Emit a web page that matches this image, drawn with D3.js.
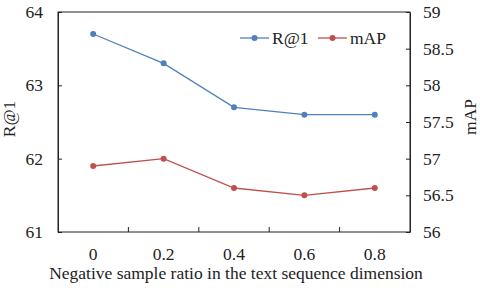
<!DOCTYPE html>
<meta charset="utf-8">
<style>
body { margin: 0; background: #fff; }
svg text { font-family: "Liberation Serif", "DejaVu Serif", serif !important; fill: #222; }
.line { fill: none; stroke-width: 1.3px; }
</style>
<script src="https://cdn.jsdelivr.net/npm/d3@7"></script>
<body>
<script>

var ratios = ["0", "0.2", "0.4", "0.6", "0.8"];
var r1 = [63.7, 63.3, 62.7, 62.6, 62.6];
var mAP = [56.9, 57.0, 56.6, 56.5, 56.6];
var leftTicks = [61, 62, 63, 64];
var rightTicks = [56, 56.5, 57, 57.5, 58, 58.5, 59];

var width = 480, height = 288;
var m = {left: 58, right: 70, top: 12, bottom: 56};
var w = width - m.left - m.right,
    h = height - m.top - m.bottom;

var blue = "#4f81bd", red = "#c0504d";
var fs = 17.5;

var svg = d3.select("body").append("svg")
    .attr("width", width)
    .attr("height", height);

var g = svg.append("g")
    .attr("transform", "translate(" + m.left + "," + m.top + ")");

var x = d3.scaleBand().domain(ratios).range([0, w]);
var yL = d3.scaleLinear().domain([61, 64]).range([h, 0]);
var yR = d3.scaleLinear().domain([56, 59]).range([h, 0]);

// frame
g.append("rect")
    .attr("width", w).attr("height", h)
    .attr("fill", "none").attr("stroke", "#222").attr("stroke-width", 1);

// left axis, ticks inward
var axL = g.append("g").call(d3.axisLeft(yL).tickValues(leftTicks).tickFormat(d3.format("d"))
    .tickSizeInner(-4).tickSizeOuter(0).tickPadding(15));
axL.attr("font-family", null);
axL.select(".domain").attr("stroke", "#222");
axL.selectAll("line").attr("stroke", "#222");
axL.selectAll("text").attr("font-size", fs);

var axR = g.append("g").attr("transform", "translate(" + w + ",0)")
    .call(d3.axisRight(yR).tickValues(rightTicks).tickSizeInner(-4).tickSizeOuter(0).tickPadding(13)
      .tickFormat(d3.format("")));
axR.attr("font-family", null);
axR.select(".domain").attr("stroke", "#222");
axR.selectAll("line").attr("stroke", "#222");
axR.selectAll("text").attr("font-size", fs);

// bottom axis: labels at band centers, ticks at band boundaries
var axB = g.append("g").attr("transform", "translate(0," + h + ")")
    .call(d3.axisBottom(x).tickSize(0).tickPadding(16));
axB.attr("font-family", null);
axB.select(".domain").remove();
axB.selectAll("text").attr("font-size", fs);

g.selectAll(".xtick")
    .data(ratios.slice(1))
  .enter().append("line")
    .attr("x1", function(d) { return x(d); })
    .attr("x2", function(d) { return x(d); })
    .attr("y1", h).attr("y2", h - 5)
    .attr("stroke", "#222");

function cx(d, i) { return x(ratios[i]) + x.bandwidth() / 2; }

var series = [
  {name: "R@1", values: r1, scale: yL, color: blue},
  {name: "mAP", values: mAP, scale: yR, color: red}
];

series.forEach(function(s) {
  var line = d3.line()
      .x(cx)
      .y(function(d) { return s.scale(d); });
  g.append("path")
      .datum(s.values)
      .attr("class", "line")
      .attr("stroke", s.color)
      .attr("d", line);
  g.selectAll(null)
      .data(s.values)
    .enter().append("circle")
      .attr("cx", cx)
      .attr("cy", function(d) { return s.scale(d); })
      .attr("r", 3)
      .attr("fill", s.color);
});

// legend
var legX = [240, 318];
var leg = svg.append("g").selectAll("g")
    .data(series)
  .enter().append("g")
    .attr("transform", function(d, i) { return "translate(" + legX[i] + ",38)"; });
leg.append("line").attr("x1", 0).attr("x2", 29)
    .attr("stroke", function(d) { return d.color; }).attr("stroke-width", 1.3);
leg.append("circle").attr("cx", 14.5).attr("r", 3)
    .attr("fill", function(d) { return d.color; });
leg.append("text").attr("x", 32).attr("dy", "0.35em")
    .attr("font-size", fs)
    .text(function(d) { return d.name; });

// axis titles
svg.append("text")
    .attr("transform", "translate(15,119) rotate(-90)")
    .attr("text-anchor", "middle")
    .attr("font-size", fs)
    .text("R@1");

svg.append("text")
    .attr("transform", "translate(476,117) rotate(-90)")
    .attr("text-anchor", "middle")
    .attr("font-size", fs)
    .text("mAP");

svg.append("text")
    .attr("x", m.left + w / 2 + 2)
    .attr("y", 279)
    .attr("text-anchor", "middle")
    .attr("font-size", fs)
    .text("Negative sample ratio in the text sequence dimension");

</script>
</body>
